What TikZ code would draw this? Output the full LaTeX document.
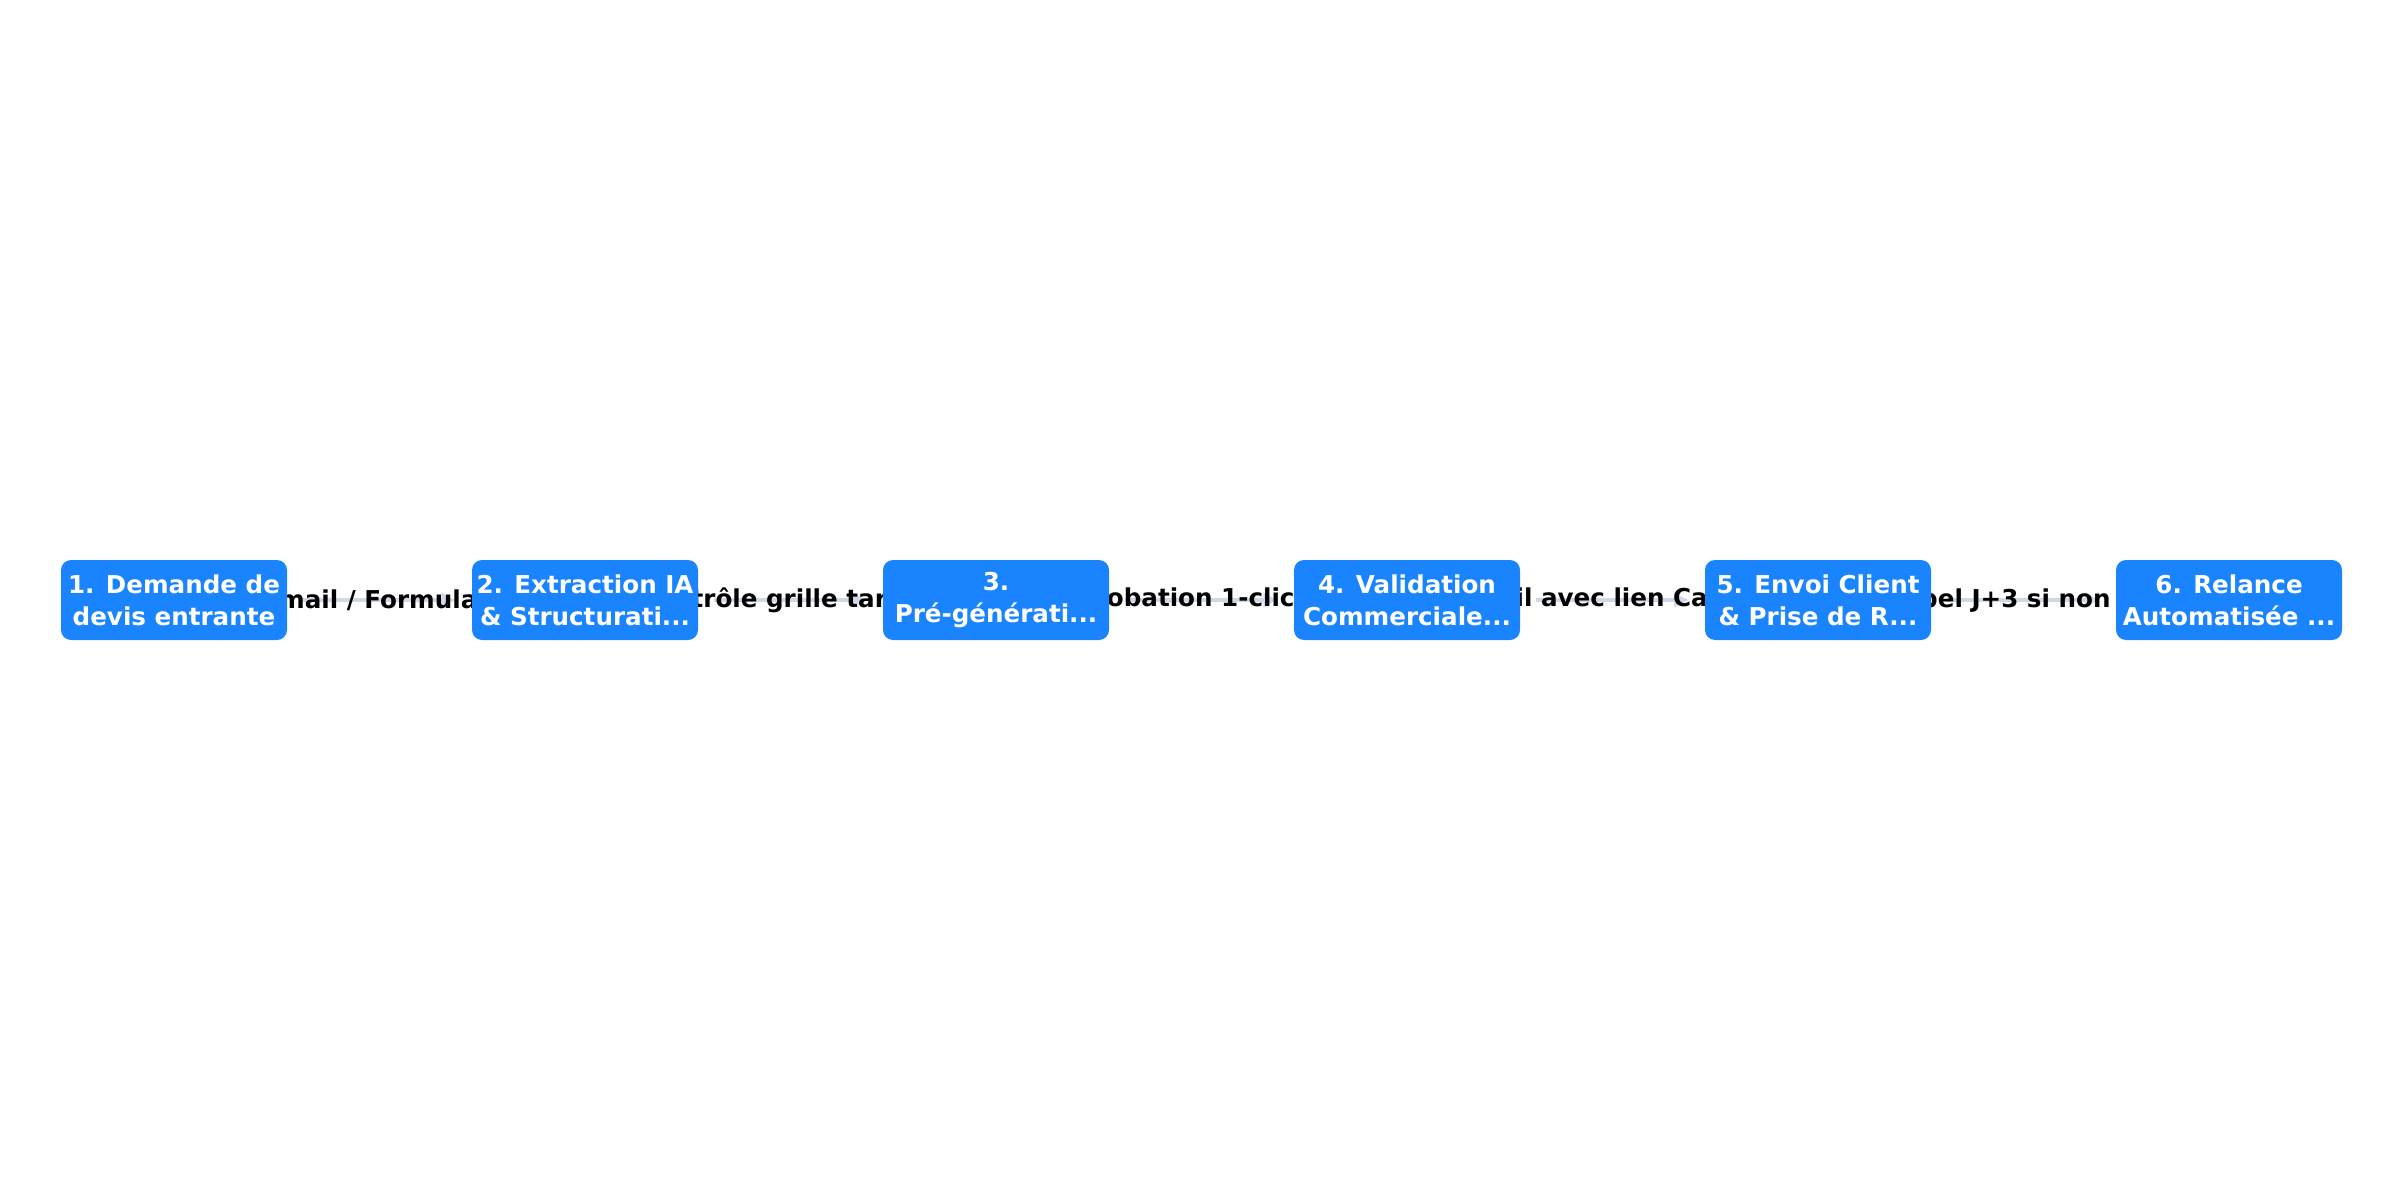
\documentclass[tikz,border=0pt]{standalone}
\usepackage{fontspec}
\setsansfont{DejaVu Sans}
\usetikzlibrary{positioning, arrows.meta}
\definecolor{stepblue}{RGB}{26,132,255}
\definecolor{flowgrey}{RGB}{208,216,232}
\pgfdeclarelayer{background}
\pgfsetlayers{background,main}

\begin{document}
\begin{tikzpicture}[node distance=4.11cm,
    stepbox/.style={draw=none, fill=stepblue, text=white, rounded corners=0.1cm,
        minimum width=2.26cm, minimum height=0.8cm, inner sep=0pt, align=center,
        font=\sffamily\bfseries\fontsize{7}{9.1}\selectfont},
    flow/.style={draw=flowgrey, line width=1.1pt, -{Latex[length=1.5mm, width=1.6mm]},
        shorten <=0.15cm, shorten >=0.15cm},
    lbl/.style={text=black, inner sep=0pt, font=\sffamily\bfseries\fontsize{7}{9.1}\selectfont}]
    \useasboundingbox (0,0) rectangle (24,12);

    \node[stepbox] (n1) at (1.74,6) {1. Demande de\\devis entrante};
    \node[stepbox, right of=n1] (n2) {2. Extraction IA\\\& Structurati...};
    \node[stepbox, right of=n2] (n3) {3.\\Pré-générati...};
    \node[stepbox, right of=n3] (n4) {4. Validation\\Commerciale...};
    \node[stepbox, right of=n4] (n5) {5. Envoi Client\\\& Prise de R...};
    \node[stepbox, right of=n5] (n6) {6. Relance\\Automatisée ...};

    % edges go under the boxes
    \begin{pgfonlayer}{background}
    \path (n1) edge[flow] node[lbl, xshift=0.09cm] {Email / Formulaire} (n2);
    \path (n2) edge[flow] node[lbl, xshift=0.09cm] {Contrôle grille tarifaire} (n3);
    \path (n3) edge[flow] node[lbl, xshift=-0.34cm] {Approbation 1-clic} (n4);
    \path (n4) edge[flow] node[lbl, xshift=0.12cm] {Email avec lien Calendly} (n5);
    \path (n5) edge[flow] node[lbl, xshift=0.07cm] {Rappel J+3 si non signé} (n6);
    \end{pgfonlayer}
\end{tikzpicture}
\end{document}
